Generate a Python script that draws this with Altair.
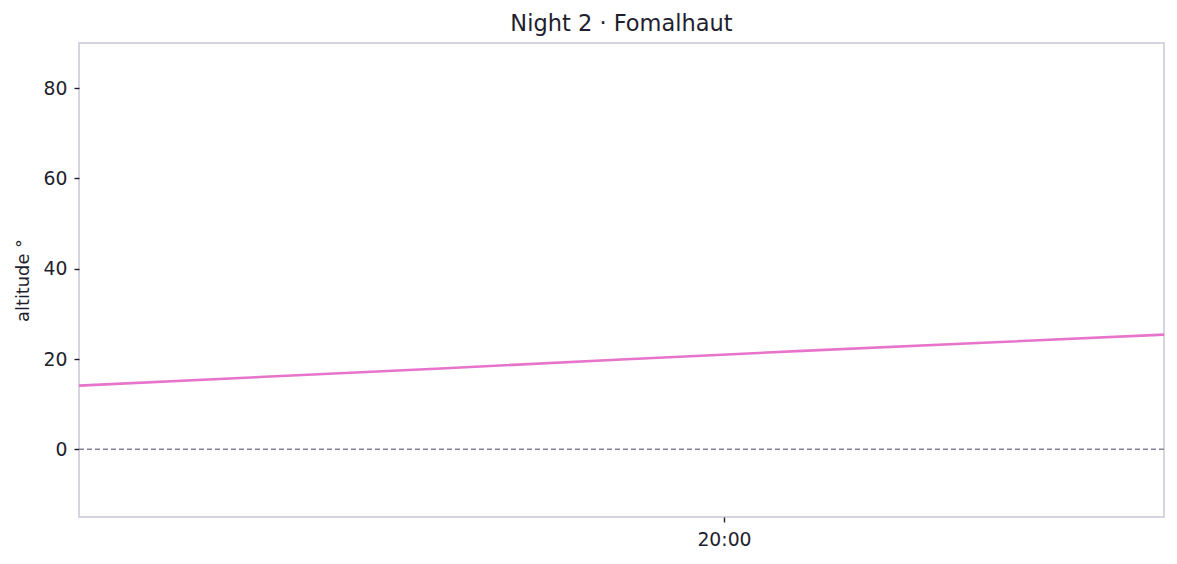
import altair as alt
import pandas as pd

times = ["2024-01-02T19:06:30Z", "2024-01-02T19:21:30Z", "2024-01-02T19:36:30Z",
         "2024-01-02T19:51:30Z", "2024-01-02T20:06:30Z", "2024-01-02T20:21:30Z",
         "2024-01-02T20:36:30Z"]
altitude = [14.1, 16.0, 17.9, 19.9, 21.8, 23.6, 25.4]
horizon = [0]

df = pd.DataFrame({"time": times, "alt": altitude})
hz = pd.DataFrame({"y": horizon})

TEXT = "#1e1e2e"
FONT = "DejaVu Sans"

x_enc = alt.X("time:T", scale=alt.Scale(type="utc", domain=[times[0], times[-1]], nice=False),
              axis=alt.Axis(values=[alt.DateTime(year=2024, month=1, date=2, hours=20, minutes=0, utc=True)],
                            labelExpr="utcFormat(datum.value, '%H:%M')", title=None,
                            labelPadding=8))

line = alt.Chart(df).mark_line(color="#e774cb", strokeWidth=2.6).encode(
    x=x_enc,
    y=alt.Y("alt:Q", scale=alt.Scale(domain=[-15, 90], nice=False, zero=False),
            axis=alt.Axis(values=[0, 20, 40, 60, 80], title="altitude °", labelPadding=7)),
)

rule = alt.Chart(hz).mark_rule(color="#86869c", strokeWidth=1.4, strokeDash=[5, 3]).encode(
    y="y:Q"
)

chart = alt.layer(rule, line).properties(
    width=1085, height=474,
    title=alt.TitleParams("Night 2 · Fomalhaut", fontSize=22.5, font=FONT, fontWeight="normal",
                          color=TEXT, offset=8),
    autosize=alt.AutoSizeParams(type="none"),
    padding={"left": 71, "top": 35, "right": 5, "bottom": 40},
).configure_view(
    stroke="#c8c8d6", strokeWidth=1.5
).configure_axis(
    grid=False, domain=False, tickColor=TEXT, tickSize=5, tickWidth=1.4,
    labelFont=FONT, labelFontSize=18.8, labelColor=TEXT,
    titleFont=FONT, titleFontSize=17.8, titleColor=TEXT, titleFontWeight="normal", titlePadding=11,
)

chart.save("out.html", embed_options={"renderer": "svg", "actions": False})
